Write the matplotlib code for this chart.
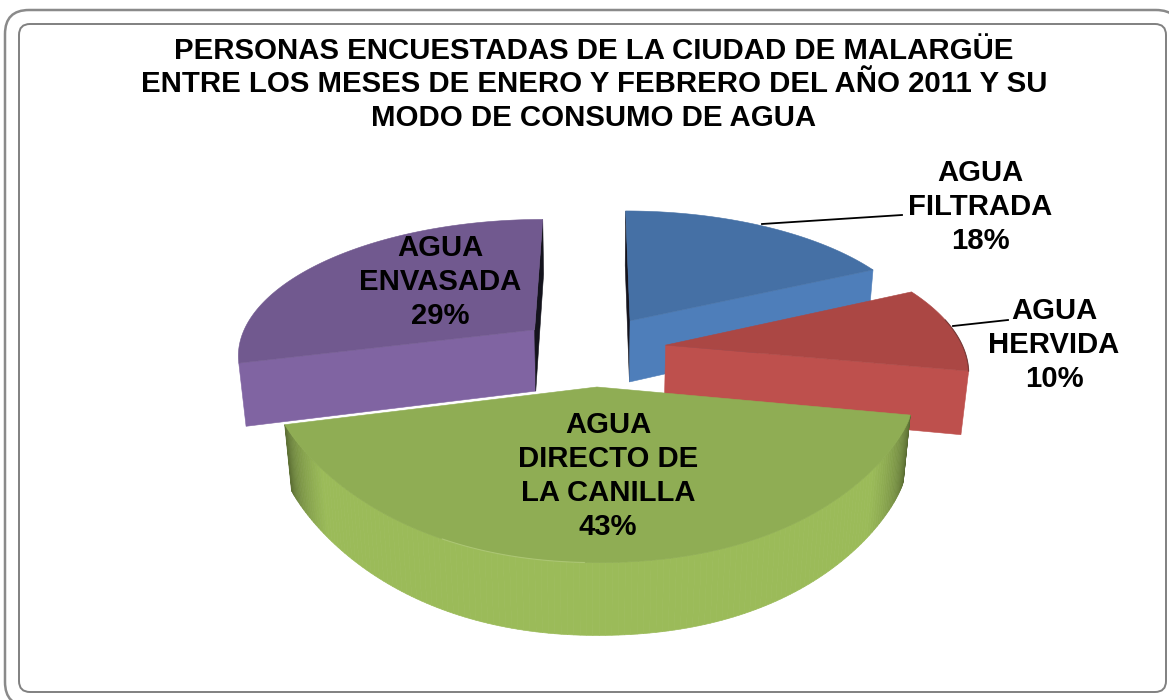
import numpy as np
import matplotlib
matplotlib.use("Agg")
import matplotlib.pyplot as plt
from matplotlib.patches import FancyBboxPatch

# --- Data ---
names = ["AGUA\nFILTRADA", "AGUA\nHERVIDA", "AGUA\nDIRECTO DE\nLA CANILLA", "AGUA\nENVASADA"]
values = [18, 10, 43, 29]
title = ("PERSONAS ENCUESTADAS DE LA CIUDAD DE MALARGÜE\n"
         "ENTRE LOS MESES DE ENERO Y FEBRERO DEL AÑO 2011 Y SU\n"
         "MODO DE CONSUMO DE AGUA")

# --- Style of each slice ---
top_colors = ["#4570A5", "#AB4744", "#8FAD54", "#71598F"]
side_colors = ["#4E7EBA", "#BE504D", "#9BBB59", "#8064A2"]
explode = [0.20, 0.23, 0.20, 0.25]
nudge = [(-1, -3), (-2, 3), (-5, 13), (-8, 4)]
label_pos = [(980, 207), (1054, 345), (608, 476), (440, 282)]
draw_order = [0, 3, 1, 2]

# --- Camera: a simple perspective view of a flat cylinder ---
CX, CY = 600, 346
R = 298
ELEV = np.radians(27)
DIST = 5.27
THICK = 0.24
PINCH = 150  # the rim of the front slice is tighter near its corners


def project(x, yf, z):
    # x to the right, yf towards the viewer, z up (radius = 1)
    depth = DIST - yf * np.cos(ELEV) - z * np.sin(ELEV)
    up = z * np.cos(ELEV) - yf * np.sin(ELEV)
    return CX + R * DIST * x / depth, CY - R * DIST * up / depth


def point(theta, rad, z, e, mid, shift):
    # theta runs clockwise from the back of the pie
    t, m = np.radians(theta), np.radians(mid)
    x = e * np.sin(m) + rad * np.sin(t)
    yf = -(e * np.cos(m) + rad * np.cos(t))
    px, py = project(x, yf, z)
    return px + shift[0], py + shift[1]


def pinch(theta, a0, a1):
    v = np.abs(2 * (theta - a0) / (a1 - a0) - 1)
    return PINCH * v ** 3 * (1 - v)


def signed_area(px, py):
    px, py = np.asarray(px), np.asarray(py)
    return 0.5 * np.sum(px * np.roll(py, -1) - np.roll(px, -1) * py)


def shade(color, f):
    rgb = np.array(matplotlib.colors.to_rgb(color))
    return tuple(rgb * f)


def draw_wall(ax, theta, e, mid, shift, color, flip):
    px, py = [], []
    for rad, z in [(0, 0), (1, 0), (1, -THICK), (0, -THICK)]:
        a, b = point(theta, rad, z, e, mid, shift)
        px.append(a)
        py.append(b)
    area = signed_area(px, py)
    if (area < 0) == flip:
        return
    ax.fill(px, py, color=color, lw=0.4, zorder=1)


def draw_slice(ax, a0, a1, top, side, e, shift):
    mid = (a0 + a1) / 2
    front = np.cos(np.radians(mid)) < 0
    # the wall at theta 0/360 is seen almost edge-on, it is in shadow
    start_col = "#14131c" if a0 == 0 else side
    end_col = "#14131c" if a1 >= 359.9 else side
    thetas = np.linspace(a0, a1, int(a1 - a0) + 2)

    # the front slice hides its own walls
    if not front:
        draw_wall(ax, a0, e, mid, shift, start_col, False)
        draw_wall(ax, a1, e, mid, shift, end_col, True)

    # outer rim, only for the slice that points at the viewer
    if front:
        for t0, t1 in zip(thetas[:-1], thetas[1:]):
            nf = -np.cos(np.radians((t0 + t1) / 2))
            f = 0.48 + 0.52 * np.clip((nf - 0.15) / 0.45, 0, 1)
            p0, p1 = pinch(t0, a0, a1), pinch(t1, a0, a1)
            xa, ya = point(t0, 1, 0, e, mid, shift)
            xb, yb = point(t1, 1, 0, e, mid, shift)
            xc, yc = point(t1, 1, -THICK, e, mid, shift)
            xd, yd = point(t0, 1, -THICK, e, mid, shift)
            ax.fill([xa, xb, xc, xd], [ya - p0, yb - p1, yc - p1, yd - p0],
                    color=shade(side, f), lw=0.5, zorder=1)

    ax_, ay_ = point(0, 0, 0, e, mid, shift)
    xs, ys = point(thetas, 1, 0, e, mid, shift)
    if front:
        ys = ys - pinch(thetas, a0, a1)
    ax.fill(np.r_[ax_, xs], np.r_[ay_, ys], color=top, lw=0.4, zorder=1)


def main():
    fig = plt.figure(figsize=(11.69, 7.0), dpi=100)
    ax = fig.add_axes([0, 0, 1, 1])
    ax.set_xlim(0, 1169)
    ax.set_ylim(700, 0)
    ax.axis("off")
    plt.rcParams["font.family"] = ["Liberation Sans", "DejaVu Sans"]

    # double rounded frame
    outer = FancyBboxPatch((5, 10), 1175, 696, boxstyle="round,pad=0,rounding_size=24",
                           fc="white", ec="#8a8a8a", lw=1.8, zorder=0)
    inner = FancyBboxPatch((19, 24), 1147, 668, boxstyle="round,pad=0,rounding_size=11",
                           fc="white", ec="#808080", lw=1.4, zorder=0)
    ax.add_patch(outer)
    ax.add_patch(inner)

    # slices from the values
    pct = np.array(values) / np.sum(values)
    edges = np.r_[0, np.cumsum(pct) * 360]
    for i in draw_order:
        draw_slice(ax, edges[i], edges[i + 1], top_colors[i], side_colors[i], explode[i], nudge[i])

    # thin highlight where the top of the green slice meets its side
    mid = (edges[2] + edges[3]) / 2
    ht = np.linspace(182, 205, 30)
    hx, hy = point(ht, 1, 0, explode[2], mid, nudge[2])
    ax.plot(hx, hy - pinch(ht, edges[2], edges[3]), color="#bcd485", lw=0.8, alpha=0.6, zorder=2)

    # dark rim on the right of the red slice
    mid = (edges[1] + edges[2]) / 2
    rx, ry = point(np.linspace(edges[1] + 14, edges[2], 20), 1, 0, explode[1], mid, nudge[1])
    ax.plot(rx, ry, color="#5a2a28", lw=0.8, alpha=0.7, zorder=2)

    # leader lines
    ax.plot([762, 902], [224, 215], color="black", lw=1.3, zorder=3)
    ax.plot([953, 1008], [326, 320], color="black", lw=1.3, zorder=3)

    ax.text(594, 84.5, title, ha="center", va="center", fontsize=21.2, fontweight="bold",
            linespacing=1.25, zorder=4)
    for name, v, (lx, ly) in zip(names, values, label_pos):
        ax.text(lx, ly, f"{name}\n{v}%", ha="center", va="center", fontsize=21.1,
                fontweight="bold", linespacing=1.26, zorder=4)

    fig.savefig("out.png", dpi=100)


if __name__ == "__main__":
    main()
